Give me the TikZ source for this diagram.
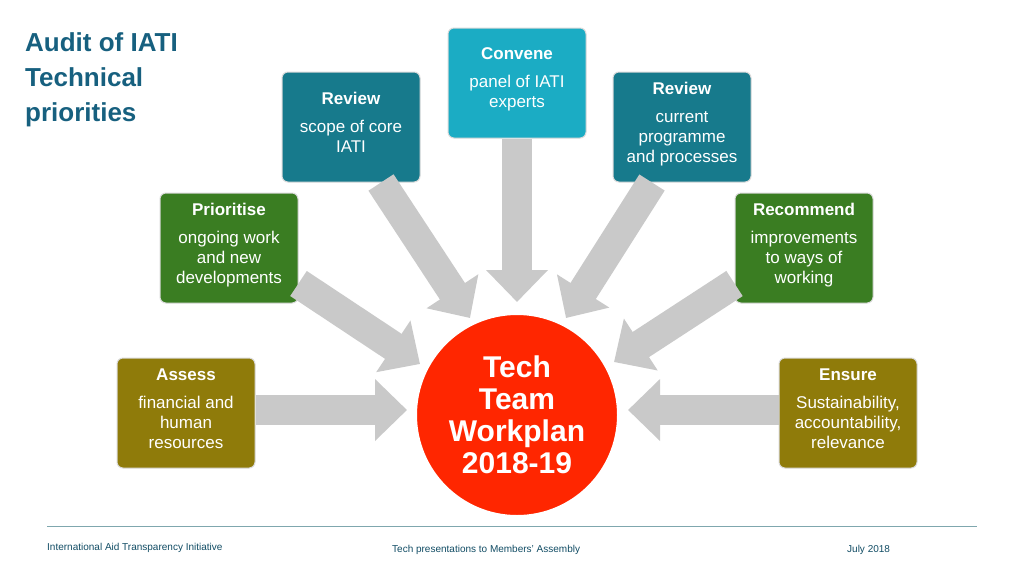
\documentclass[tikz,border=0pt]{standalone}
\usepackage{fontspec}
\setmainfont{Liberation Sans}
\usetikzlibrary{arrows.meta,calc}
\definecolor{cyanb}{HTML}{1BACC4}
\definecolor{tealb}{HTML}{177A8C}
\definecolor{greenb}{HTML}{3A7D22}
\definecolor{oliveb}{HTML}{8F7B0A}
\definecolor{redc}{HTML}{FF2600}
\definecolor{titlec}{HTML}{17607F}
\definecolor{grayarr}{HTML}{C9C9C9}
\definecolor{footc}{HTML}{7FA7AE}
\begin{document}
\begin{tikzpicture}[x=1pt,y=-1pt,
  box/.style={draw=white!85!black,line width=1pt,rounded corners=6pt,minimum width=138pt,minimum height=110pt,inner sep=0pt},
  btxt/.style={text=white,align=center,font=\fontsize{17}{20}\selectfont,anchor=north,inner sep=0pt},
  barrow/.style={draw=grayarr,line width=30pt,-{Triangle[width=60pt,length=32pt]}},
  foot/.style={font=\fontsize{10}{12}\selectfont,text=titlec!80!black,anchor=base west,inner sep=0pt}]
\useasboundingbox (0,0) rectangle (1024,576);
\fill[white] (0,0) rectangle (1024,576);
% title
\node[anchor=north west,align=left,text=titlec,font=\bfseries\fontsize{26}{35}\selectfont,inner sep=0pt] (title) at (25,32) {Audit of IATI\\Technical\\priorities};
% boxes
\node[box,fill=cyanb] (conv) at (517,83) {};
\node[box,fill=tealb] (rev1) at (351,127) {};
\node[box,fill=tealb] (rev2) at (682,127) {};
\node[box,fill=greenb] (prio) at (229,248) {};
\node[box,fill=greenb] (reco) at (804,248) {};
\node[box,fill=oliveb] (asse) at (186,413) {};
\node[box,fill=oliveb] (ensu) at (848,413) {};
% circle
\node[circle,fill=redc,draw=white,line width=2pt,minimum size=202pt,inner sep=0pt,text=white,align=center,font=\bfseries\fontsize{30}{32}\selectfont] (tech) at (517,415) {Tech\\Team\\Workplan\\2018-19};
% arrows
\coordinate (t1) at (517,302);
\coordinate (t2) at (470,318);
\coordinate (t3) at (566,318);
\coordinate (t4) at (420,364);
\coordinate (t5) at (614,362);
\coordinate (t6) at (407,410);
\coordinate (t7) at (628,410);
\draw[barrow] (conv.south) -- (t1);
\draw[barrow] ($(rev1.south)+(30,0)$) -- (t2);
\draw[barrow] ($(rev2.south)+(-30,0)$) -- (t3);
\draw[barrow] ($(prio.south east)+(0,-20)$) -- (t4);
\draw[barrow] ($(reco.south west)+(0,-20)$) -- (t5);
\draw[barrow] ($(asse.east)+(0,-3)$) -- (t6);
\draw[barrow] ($(ensu.west)+(0,-3)$) -- (t7);
% texts
\node[btxt] at ($(conv.north)+(0,20)$) {\textbf{Convene}\\[8pt]panel of IATI\\experts};
\node[btxt] at ($(rev1.north)+(0,20)$) {\textbf{Review}\\[8pt]scope of core\\IATI};
\node[btxt] at ($(rev2.north)+(0,10)$) {\textbf{Review}\\[8pt]current\\programme\\and processes};
\node[btxt] at ($(prio.north)+(0,10)$) {\textbf{Prioritise}\\[8pt]ongoing work\\and new\\developments};
\node[btxt] at ($(reco.north)+(0,10)$) {\textbf{Recommend}\\[8pt]improvements\\to ways of\\working};
\node[btxt] at ($(asse.north)+(0,11)$) {\textbf{Assess}\\[8pt]financial and\\human\\resources};
\node[btxt] at ($(ensu.north)+(0,11)$) {\textbf{Ensure}\\[8pt]Sustainability,\\accountability,\\relevance};
% footer
\draw[footc,line width=0.8pt] (47,526) coordinate (fl) -- (977,526) coordinate (fr);
\node[foot] (f1) at (47,550) {International Aid Transparency Initiative};
\node[foot] (f2) at (392,552) {Tech presentations to Members’ Assembly};
\node[foot] (f3) at (847,552) {July 2018};
\end{tikzpicture}
\end{document}
